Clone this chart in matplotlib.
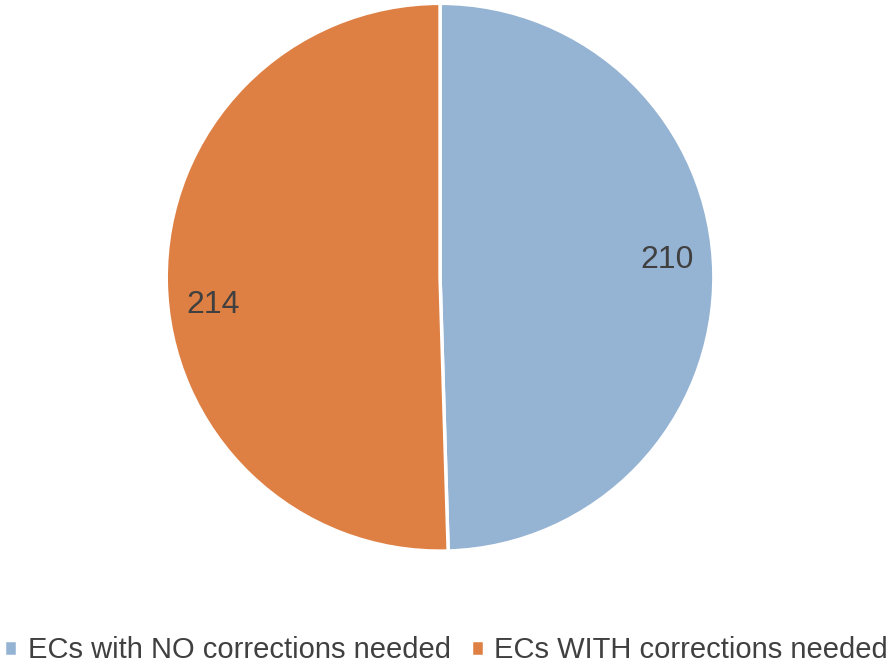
import matplotlib
matplotlib.use("Agg")
import matplotlib.pyplot as plt
import numpy as np

categories = ["ECs with NO corrections needed", "ECs WITH corrections needed"]
values = [210, 214]
colors = ["#95B3D3", "#DE8044"]

plt.rcParams['font.family'] = ['Liberation Sans', 'DejaVu Sans']

fig = plt.figure(figsize=(8.89, 6.64), dpi=100)
ax = fig.add_axes([0.187, 0.170, 0.616, 0.825])
wedges, _ = ax.pie(values, colors=colors, startangle=90, counterclock=False,
                   wedgeprops=dict(edgecolor="white", linewidth=2.5))
ax.set_xlim(-1, 1)
ax.set_ylim(-1, 1)
ax.set_aspect('auto')

for w, v in zip(wedges, values):
    ang = np.deg2rad((w.theta1 + w.theta2) / 2)
    x = 0.83 * np.cos(ang)
    y = 0.83 * np.sin(ang)
    y += 0.052 if x > 0 else -0.09
    ax.text(x, y, str(v), ha='center', va='center', fontsize=23,
            color="#404040")

leg = fig.legend(wedges, categories, loc='center', bbox_to_anchor=(0.502, 0.021),
                 ncol=2, frameon=False, fontsize=21, handlelength=0.45, handleheight=0.45,
                 handletextpad=0.35, columnspacing=0.7, labelcolor="#404040")
fig.savefig("out.png", dpi=100)
